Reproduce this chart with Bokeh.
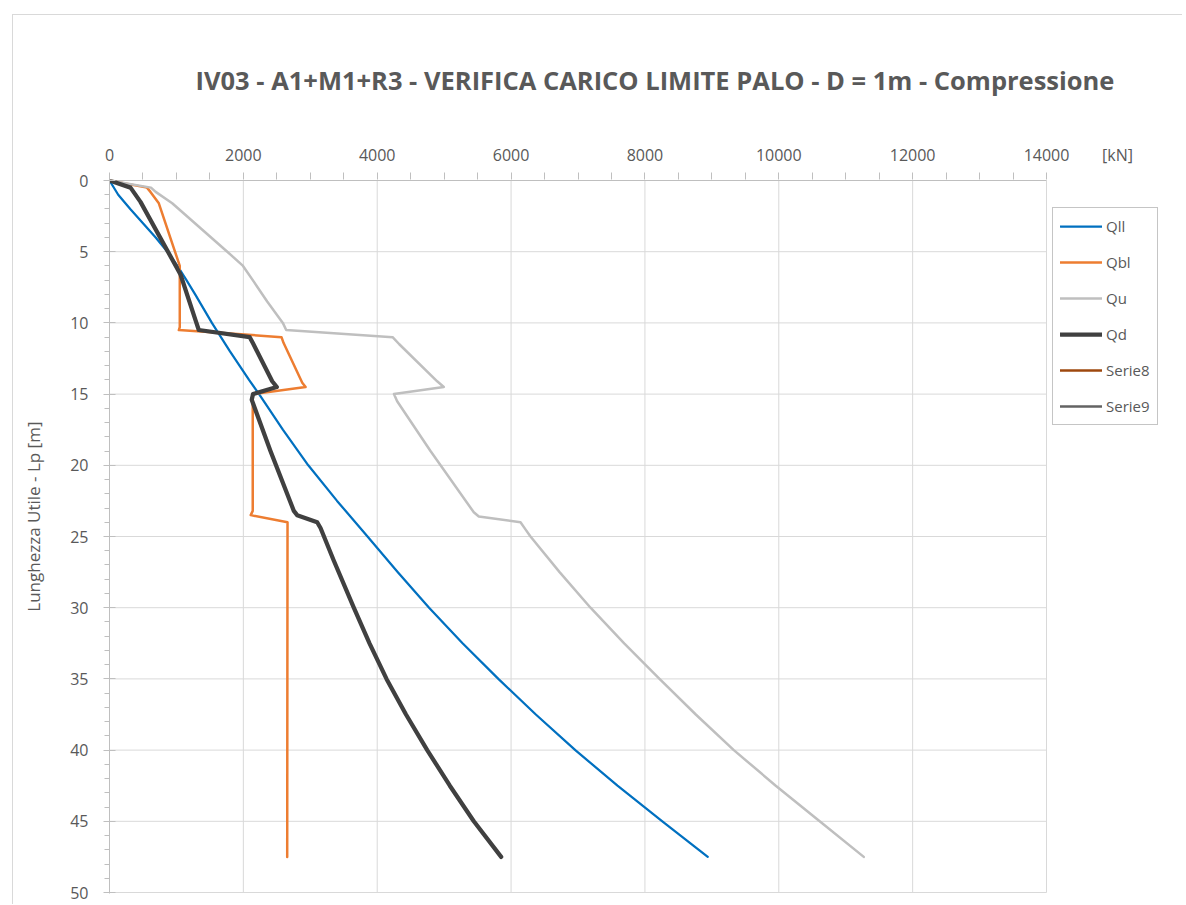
from bokeh.plotting import figure
from bokeh.models import Range1d, SingleIntervalTicker, FixedTicker, Legend, LegendItem
from bokeh.embed import file_html
from bokeh.resources import INLINE

FONT = "Open Sans"
TXT = "#595959"
NAN = float("nan")

# ---------------- data ----------------
L_ll = [0, 1, 2, 3, 4, 5, 6, 7, 8, 9, 10, 12, 14, 15, 17.5, 20, 22.5, 25, 27.5, 30, 32.5, 35, 37.5, 40, 42.5, 45, 47.5]
Q_ll = [0, 130, 310, 500, 690, 865, 1015, 1150, 1280, 1405, 1530, 1800, 2085, 2235, 2590, 2970, 3400, 3855, 4305, 4775, 5275, 5810, 6370, 6960, 7590, 8260, 8939]

L_bl = [0, 0.5, 0.8, 1.6, 6.0, 10.3, 10.5, 11.0, 11.4, 14.2, 14.5, 15.0, 23.2, 23.5, 24.0, 47.5]
Q_bl = [0, 560, 612, 737, 1050, 1050, 1036, 2570, 2600, 2880, 2930, 2140, 2140, 2110, 2660, 2655]

L_u = [0, 0.5, 0.8, 1.6, 5.0, 6.0, 7.1, 8.5, 10.0, 10.5, 11.0, 11.5, 14.1, 14.5, 15.0, 15.5, 19.0, 23.3, 23.6, 24.0, 24.5,
       25.0, 27.5, 30, 32.5, 35, 37.5, 40, 42.5, 45, 47.5]
Q_u = [0, 620, 690, 937, 1760, 1995, 2156, 2356, 2590, 2640, 4230, 4330, 4896, 4995, 4250, 4298, 4796, 5443, 5518, 6141, 6215,
       6290, 6725, 7187, 7690, 8218, 8760, 9328, 9955, 10611, 11270]

L_d = [0, 0.5, 1.5, 6.6, 9.8, 10.5, 11.0, 11.4, 14.1, 14.5, 15.0, 15.4, 19.0, 23.2, 23.5, 24.0, 24.4, 26.7, 30,
       32.5, 35, 37.5, 40, 42.5, 45, 47.5]
Q_d = [0, 314, 463, 1061, 1285, 1334, 2095, 2140, 2431, 2500, 2145, 2125, 2405, 2754, 2804, 3103, 3153, 3352, 3650,
       3885, 4139, 4430, 4747, 5085, 5443, 5852]

# Serie8 / Serie9 have no visible values in the reference (legend entries only)
L_s8, Q_s8 = [NAN], [NAN]
L_s9, Q_s9 = [NAN], [NAN]

series_names = ["Qll", "Qbl", "Qu", "Qd", "Serie8", "Serie9"]
series_colors = ["#0070C0", "#ED7D31", "#BFBFBF", "#404040", "#9E480E", "#636363"]

x_ticks = [0, 2000, 4000, 6000, 8000, 10000, 12000, 14000]
x_minor = list(range(0, 14001, 500))
y_ticks = [0, 5, 10, 15, 20, 25, 30, 35, 40, 45, 50]

title_text = "IV03 - A1+M1+R3 - VERIFICA CARICO LIMITE PALO - D = 1m - Compressione"
y_label_text = "\u00a0" * 9 + "Lunghezza Utile - Lp [m]"
unit_text = "[kN]"

# ---------------- layout constants (pixels) ----------------
X_MAX, Y_MAX = x_ticks[-1], y_ticks[-1]
FRAME_L, FRAME_R_AXIS, FRAME_R = 109, 1046, 1183      # page px
PX_X = (FRAME_R_AXIS - FRAME_L) / X_MAX
PX_Y = 712 / Y_MAX
x_end = (FRAME_R - FRAME_L) / PX_X
unit_pos = (1117 - FRAME_L) / PX_X
pad_y = 1 / PX_Y

p = figure(width=1170, height=890, output_backend="svg", toolbar_location=None,
           x_range=Range1d(0, x_end), y_range=Range1d(Y_MAX + pad_y, -pad_y),
           x_axis_location="above",
           min_border_left=96, min_border_top=164, min_border_right=0, min_border_bottom=12,
           outline_line_color=None, title=title_text,
           styles={"margin-left": "12px", "margin-top": "14px",
                   "border-left": "1px solid #D9D9D9", "border-top": "1px solid #D9D9D9"})

p.title.text_font = FONT
p.title.text_font_size = "25.5px"
p.title.text_font_style = "bold"
p.title.text_color = TXT
p.title.align = "left"
p.title.offset = 86
p.title.standoff = 88

p.xgrid.visible = False
p.ygrid.visible = False

# grid lines limited to the data area (0..14000 x 0..50)
vx = [t for t in x_ticks if t > 0]
p.segment(x0=vx, y0=[0] * len(vx), x1=vx, y1=[Y_MAX] * len(vx),
          line_color="#D9D9D9", line_width=1, level="underlay")
hy = [t for t in y_ticks if t > 0]
p.segment(x0=[0] * len(hy), y0=hy, x1=[X_MAX] * len(hy), y1=hy,
          line_color="#D9D9D9", line_width=1, level="underlay")
p.segment(x0=[0], y0=[0], x1=[X_MAX], y1=[0], line_color="#BFBFBF", line_width=1, level="underlay")

xt = FixedTicker(ticks=x_ticks + [unit_pos], minor_ticks=x_minor)
p.xaxis.ticker = xt
p.xaxis.major_label_overrides = {unit_pos: unit_text}
p.xaxis.axis_line_color = None
p.xaxis.major_tick_line_color = None
p.xaxis.major_tick_out = 7
p.xaxis.major_tick_in = 0
p.xaxis.minor_tick_line_color = "#BFBFBF"
p.xaxis.minor_tick_out = 7
p.xaxis.minor_tick_in = 0
p.xaxis.major_label_standoff = 7

yt = SingleIntervalTicker(interval=5, num_minor_ticks=5)
p.yaxis.ticker = yt
p.yaxis.axis_line_color = "#BFBFBF"
p.yaxis.major_tick_line_color = "#BFBFBF"
p.yaxis.minor_tick_line_color = "#BFBFBF"
p.yaxis.major_tick_out = 6
p.yaxis.major_tick_in = 6
p.yaxis.minor_tick_out = 5
p.yaxis.minor_tick_in = 0
p.yaxis.major_label_standoff = 15
p.yaxis.axis_label = y_label_text
p.yaxis.axis_label_text_font = FONT
p.yaxis.axis_label_text_font_size = "17px"
p.yaxis.axis_label_text_font_style = "normal"
p.yaxis.axis_label_text_color = TXT
p.yaxis.axis_label_standoff = 22

for ax in (p.xaxis, p.yaxis):
    ax.major_label_text_font = FONT
    ax.major_label_text_font_size = "16px"
    ax.major_label_text_color = TXT

kw = dict(line_join="round", line_cap="round")
r_ll = p.line(Q_ll, L_ll, line_color=series_colors[0], line_width=2.25, **kw)
r_bl = p.line(Q_bl, L_bl, line_color=series_colors[1], line_width=2.5, **kw)
r_u = p.line(Q_u, L_u, line_color=series_colors[2], line_width=2.5, **kw)
r_d = p.line(Q_d, L_d, line_color=series_colors[3], line_width=4.25, **kw)
r_s8 = p.line(Q_s8, L_s8, line_color=series_colors[4], line_width=2.5, **kw)
r_s9 = p.line(Q_s9, L_s9, line_color=series_colors[5], line_width=2.5, **kw)

renderers = [r_ll, r_bl, r_u, r_d, r_s8, r_s9]
legend = Legend(items=[LegendItem(label=n, renderers=[r], index=0) for n, r in zip(series_names, renderers)],
                location=(943, 468), border_line_color="#8C8C8C", border_line_width=1,
                background_fill_color="white", background_fill_alpha=1,
                label_text_font=FONT, label_text_font_size="15px", label_text_color=TXT,
                glyph_width=42, glyph_height=22, label_height=22, spacing=14, padding=7,
                label_standoff=4, margin=0)
p.add_layout(legend, "center")

open("out.html", "w").write(file_html(p, INLINE))
